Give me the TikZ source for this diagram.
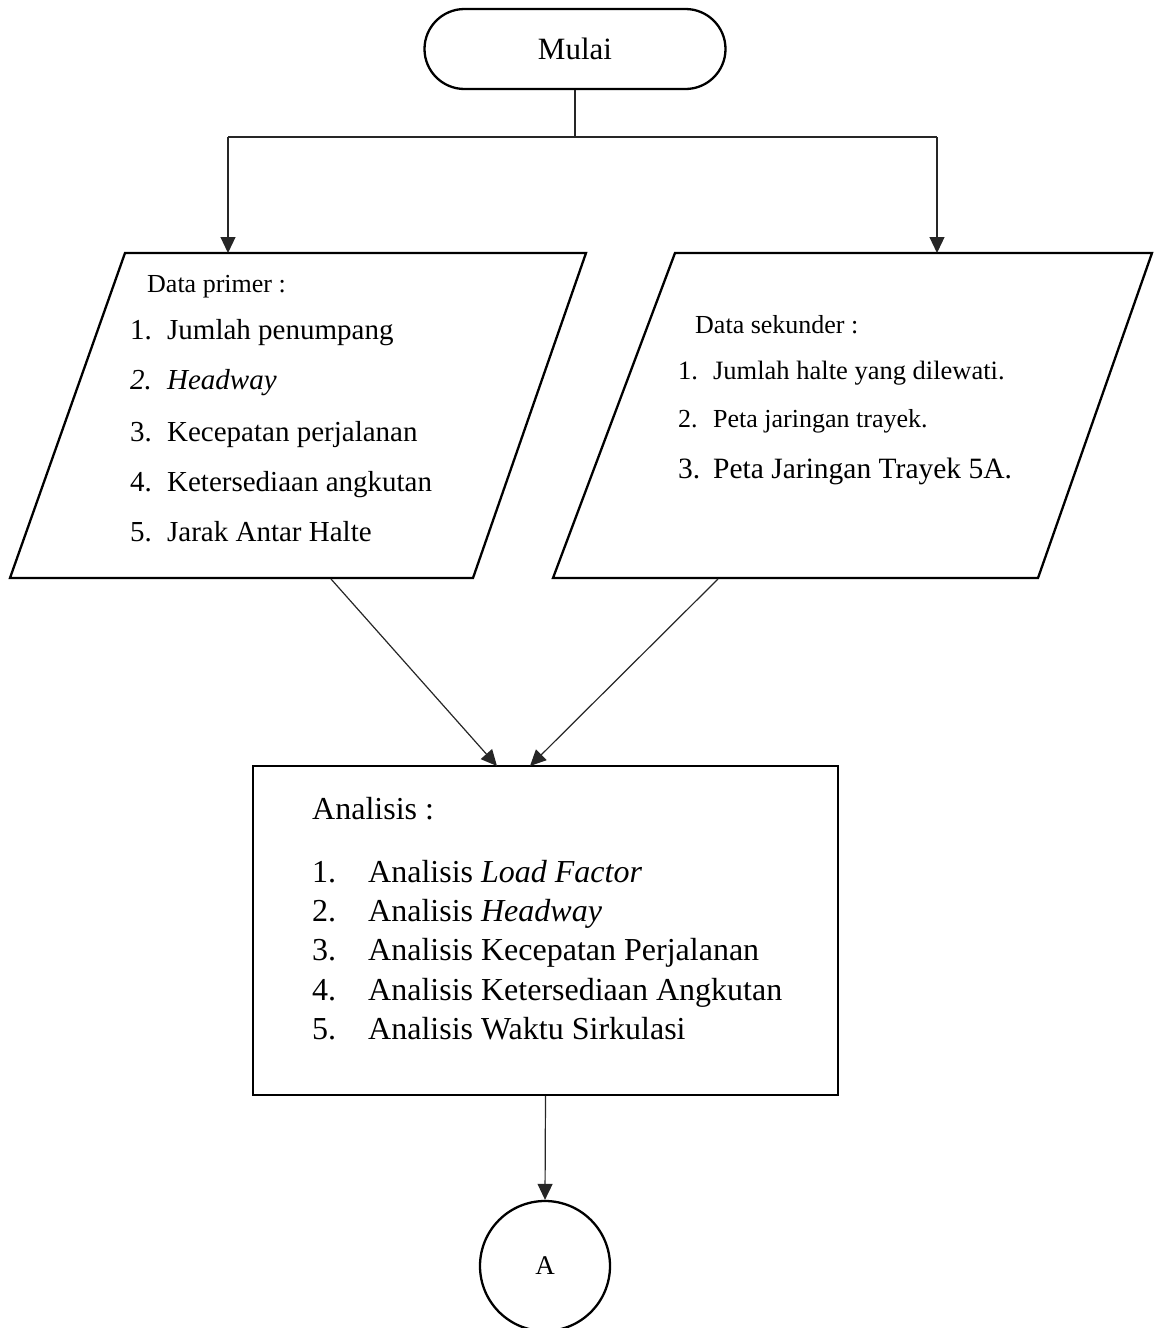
\documentclass[tikz,border=0pt]{standalone}
\usepackage{fontspec}
\setmainfont{Liberation Serif}
\usetikzlibrary{arrows.meta}
\newcommand{\fsz}[1]{\fontsize{#1}{#1}\selectfont}
\begin{document}
\begin{tikzpicture}[x=1pt,y=-1pt,
  shapeline/.style={line width=2.3pt, line join=miter},
  conn/.style={line width=1.2pt, draw=black!85},
  arr/.style={conn,-{Triangle[length=16pt,width=15pt]}},
  txt/.style={anchor=base west, inner sep=0pt},
]
\useasboundingbox (0,0) rectangle (1154,1328);
% start terminal
\node[draw, shapeline, rounded corners=40pt, minimum width=301pt, minimum height=80pt, inner sep=0pt, font=\fsz{31}] (start) at (575,49) {\raisebox{-3pt}{Mulai}};
% split
\coordinate (split) at (575,137);
\coordinate (splitL) at (228,137);
\coordinate (splitR) at (937,137);
% parallelograms
\coordinate (pL1) at (125,253);
\coordinate (pL2) at (586,253);
\coordinate (pL3) at (473,578);
\coordinate (pL4) at (10,578);
\coordinate (pR1) at (675,253);
\coordinate (pR2) at (1152,253);
\coordinate (pR3) at (1038,578);
\coordinate (pR4) at (553,578);
\draw[shapeline] (pL1) -- (pL2) -- (pL3) -- (pL4) -- cycle;
\draw[shapeline] (pR1) -- (pR2) -- (pR3) -- (pR4) -- cycle;
\coordinate (pLtop) at (228,253);
\coordinate (pRtop) at (937,253);
\coordinate (pLbot) at (331,579);
\coordinate (pRbot) at (718,579);
% analysis box
\node[draw, shapeline, minimum width=585pt, minimum height=329pt, inner sep=0pt] (anal) at (545.5,930.5) {};
\coordinate (analL) at (497,766);
\coordinate (analR) at (530,766);
% connector circle
\node[draw, shapeline, circle, minimum size=130pt, inner sep=0pt, font=\fsz{27}] (circ) at (545,1266) {A};
% connectors
\draw[conn] (start.south) -- (split);
\draw[conn] (splitL) -- (splitR);
\draw[arr] (splitL) -- (pLtop);
\draw[arr] (splitR) -- (pRtop);
\draw[arr] (pLbot) -- (analL);
\draw[arr] (pRbot) -- (analR);
\draw[arr] (anal.south) -- (circ.north);
% left texts
\node[txt, font=\fsz{26}] (dpH) at (147,292) {Data primer :};
\node[txt, font=\fsz{29}] (dp1) at (130,339) {\makebox[37pt][l]{1.}Jumlah penumpang};
\node[txt, font=\fsz{29}\itshape] (dp2) at (130,389) {\makebox[37pt][l]{2.}Headway};
\node[txt, font=\fsz{29}] (dp3) at (130,441) {\makebox[37pt][l]{3.}Kecepatan perjalanan};
\node[txt, font=\fsz{29}] (dp4) at (130,491) {\makebox[37pt][l]{4.}Ketersediaan angkutan};
\node[txt, font=\fsz{29}] (dp5) at (130,541) {\makebox[37pt][l]{5.}Jarak Antar Halte};
% right texts
\node[txt, font=\fsz{26}] (dsH) at (695,333) {Data sekunder :};
\node[txt, font=\fsz{26.5}] (ds1) at (678,379) {\makebox[35pt][l]{1.}Jumlah halte yang dilewati.};
\node[txt, font=\fsz{26}] (ds2) at (678,427) {\makebox[35pt][l]{2.}Peta jaringan trayek.};
\node[txt, font=\fsz{29.5}] (ds3) at (678,478) {\makebox[35pt][l]{3.}Peta Jaringan Trayek 5A.};
% analysis texts
\node[txt, font=\fsz{32}] (anH) at (312,819) {Analisis :};
\node[txt, font=\fsz{32}] (an1) at (312,882) {\makebox[56pt][l]{1.}Analisis \textit{Load Factor}};
\node[txt, font=\fsz{32}] (an2) at (312,921) {\makebox[56pt][l]{2.}Analisis \textit{Headway}};
\node[txt, font=\fsz{32}] (an3) at (312,960) {\makebox[56pt][l]{3.}Analisis Kecepatan Perjalanan};
\node[txt, font=\fsz{32}] (an4) at (312,1000) {\makebox[56pt][l]{4.}Analisis Ketersediaan Angkutan};
\node[txt, font=\fsz{32}] (an5) at (312,1039) {\makebox[56pt][l]{5.}Analisis Waktu Sirkulasi};
\end{tikzpicture}
\end{document}
